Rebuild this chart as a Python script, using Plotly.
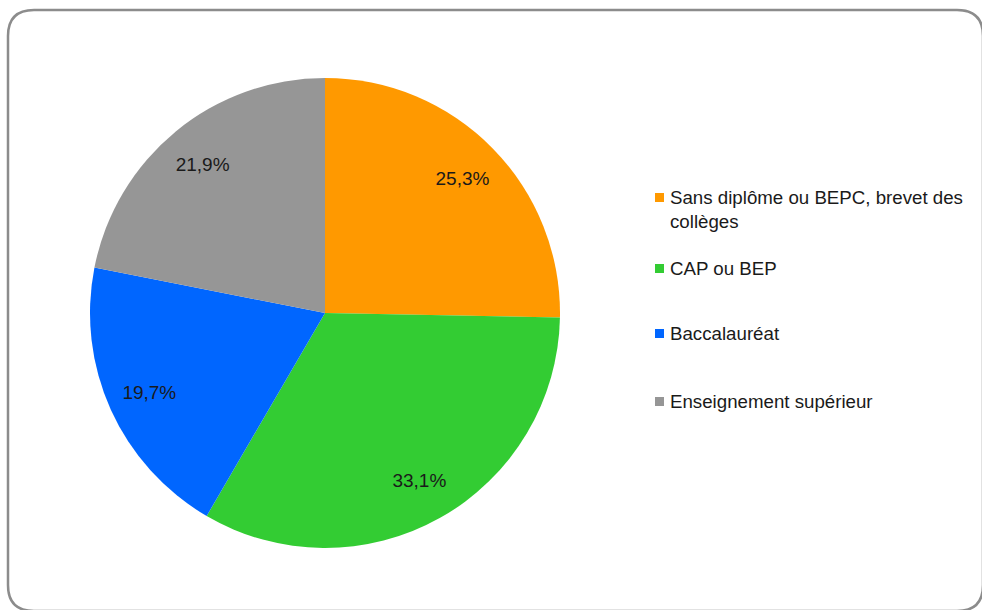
import plotly.graph_objects as go

# Répartition par niveau de diplôme
categories = [
    "Sans diplôme ou BEPC, brevet des collèges",
    "CAP ou BEP",
    "Baccalauréat",
    "Enseignement supérieur",
]
legend_labels = [
    "Sans diplôme ou BEPC, brevet des<br>collèges",
    "CAP ou BEP",
    "Baccalauréat",
    "Enseignement supérieur",
]
values = [25.3, 33.1, 19.7, 21.9]
colors = ["#FF9900", "#33CC33", "#0066FF", "#969696"]

W, H = 982, 610
FONT = "Liberation Sans"
DOMAIN = dict(x=[90 / W, 560 / W], y=[1 - 548 / H, 1 - 78 / H])

labels_txt = [f"{v:.1f}%".replace(".", ",") for v in values]

fig = go.Figure()

# Secteurs
fig.add_trace(go.Pie(
    labels=categories,
    values=values,
    textinfo="none",
    marker=dict(colors=colors, line=dict(width=0)),
    sort=False,
    direction="clockwise",
    rotation=0,
    hoverinfo="label+percent",
    domain=DOMAIN,
    showlegend=False,
))

# Étiquettes de valeurs, placées dans un anneau transparent vers le bord
fig.add_trace(go.Pie(
    labels=categories,
    values=values,
    text=labels_txt,
    textinfo="text",
    textposition="inside",
    insidetextorientation="horizontal",
    textfont=dict(family=FONT, size=19, color="#1a1a1a"),
    hole=0.64,
    marker=dict(colors=["rgba(0,0,0,0)"] * len(values), line=dict(width=0)),
    sort=False,
    direction="clockwise",
    rotation=0,
    hoverinfo="skip",
    domain=DOMAIN,
    showlegend=False,
))

# Légende dessinée à la main (espacement vertical propre à ce tableau)
legend_rows_y = [197, 268, 333, 401]
shapes = []
annotations = []
for lab, col, y in zip(legend_labels, colors, legend_rows_y):
    shapes.append(dict(
        type="rect", xref="paper", yref="paper",
        x0=655 / W, x1=664 / W, y0=1 - (y + 5) / H, y1=1 - (y - 4) / H,
        fillcolor=col, line=dict(width=0),
    ))
    annotations.append(dict(
        xref="paper", yref="paper", x=668 / W, y=1 - (y - 12) / H,
        xanchor="left", yanchor="top", align="left",
        text=lab, showarrow=False,
        font=dict(family=FONT, size=18.7, color="#1a1a1a"),
    ))

# Cadre arrondi du graphique
x0, y0, x1, y1, r = 8, 10, 983, 611, 26


def px(x):
    return x / W


def py(y):
    return 1 - y / H


path = (
    f"M {px(x0 + r)},{py(y0)} L {px(x1 - r)},{py(y0)} "
    f"Q {px(x1)},{py(y0)} {px(x1)},{py(y0 + r)} "
    f"L {px(x1)},{py(y1 - r)} Q {px(x1)},{py(y1)} {px(x1 - r)},{py(y1)} "
    f"L {px(x0 + r)},{py(y1)} Q {px(x0)},{py(y1)} {px(x0)},{py(y1 - r)} "
    f"L {px(x0)},{py(y0 + r)} Q {px(x0)},{py(y0)} {px(x0 + r)},{py(y0)} Z"
)
shapes.append(dict(type="path", xref="paper", yref="paper", path=path,
                   line=dict(color="#8c8c8c", width=2.5)))

fig.update_layout(
    width=W, height=H,
    margin=dict(l=0, r=0, t=0, b=0),
    paper_bgcolor="white",
    plot_bgcolor="white",
    shapes=shapes,
    annotations=annotations,
)

fig.write_html("out.html")
